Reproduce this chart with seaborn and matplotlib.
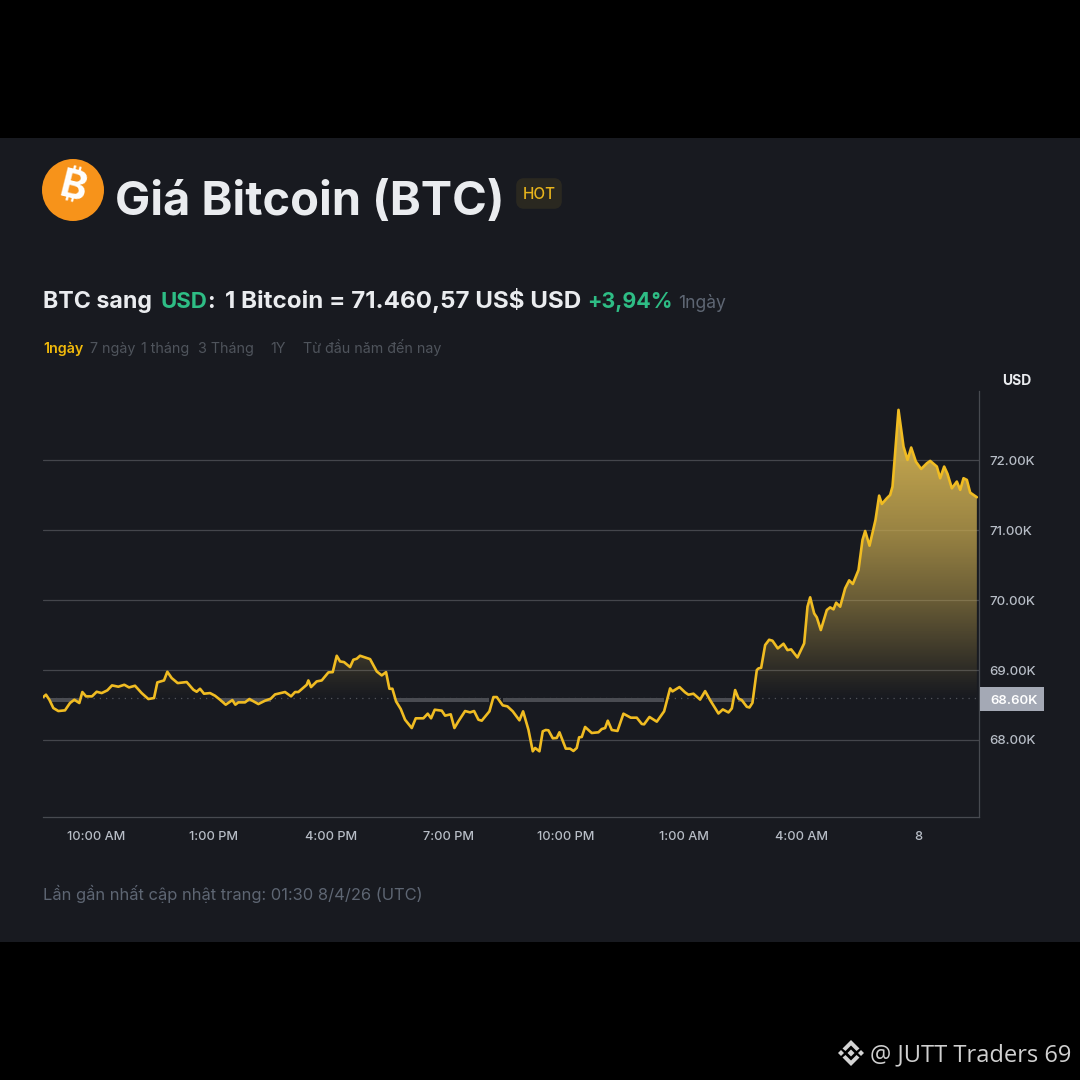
import numpy as np
import pandas as pd
import matplotlib
matplotlib.use("Agg")
import matplotlib.pyplot as plt
import seaborn as sns
from matplotlib.colors import LinearSegmentedColormap
from matplotlib.patches import Circle, FancyBboxPatch, Polygon, Rectangle

# Hours after 10:00 AM
hours = [
 -1.345,-1.277,-1.191,-1.089,-0.962,-0.791,-0.664,-0.553,-0.426,-0.349,-0.255,-0.102,0.017,0.145,0.289,0.409,0.570,0.723,0.843,0.996,
 1.166,1.336,1.481,1.566,1.736,1.821,1.932,2.085,2.315,2.485,2.570,2.655,2.757,2.911,3.038,3.166,3.311,3.481,3.557,3.634,
 3.804,3.915,4.145,4.315,4.460,4.570,4.826,4.979,5.081,5.166,5.379,5.421,5.489,5.634,5.762,5.932,6.043,6.145,6.230,6.332,
 6.485,6.570,6.655,6.740,6.996,7.166,7.294,7.404,7.489,7.566,7.660,7.779,7.889,8.060,8.162,8.357,8.468,8.553,8.647,8.826,
 8.911,9.055,9.149,9.251,9.421,9.549,9.651,9.762,9.847,10.043,10.145,10.230,10.383,10.502,10.638,10.809,10.902,11.038,11.149,11.209,
 11.319,11.404,11.481,11.549,11.660,11.762,11.830,11.992,12.102,12.187,12.272,12.332,12.400,12.485,12.655,12.826,12.911,12.996,13.064,13.166,
 13.311,13.464,13.651,13.804,13.932,13.991,14.128,14.315,14.502,14.655,14.715,14.894,15.038,15.123,15.251,15.421,15.549,15.677,15.889,16.000,
 16.145,16.230,16.315,16.400,16.485,16.613,16.681,16.757,16.868,16.911,16.979,17.081,17.183,17.268,17.404,17.549,17.651,17.745,17.906,18.077,
 18.162,18.230,18.332,18.400,18.502,18.655,18.740,18.826,18.894,18.996,19.123,19.226,19.319,19.464,19.566,19.634,19.745,19.898,19.991,20.060,
 20.187,20.272,20.332,20.485,20.613,20.715,20.809,20.928,21.064,21.209,21.294,21.464,21.549,21.651,21.736,21.847,21.974,22.060,22.145,22.230,
 22.315,22.485]
# BTC price, thousand USD
price_k = [
 68.614,68.648,68.576,68.457,68.414,68.424,68.529,68.576,68.529,68.686,68.624,68.624,68.690,68.671,68.710,68.781,68.762,68.790,68.752,68.776,
 68.671,68.586,68.600,68.824,68.852,68.976,68.886,68.814,68.829,68.719,68.690,68.733,68.662,68.671,68.633,68.576,68.505,68.571,68.505,68.538,
 68.538,68.586,68.514,68.562,68.590,68.652,68.686,68.624,68.686,68.686,68.790,68.852,68.757,68.838,68.852,68.967,68.971,69.205,69.124,69.114,
 69.043,69.148,69.162,69.205,69.157,68.981,68.924,68.971,68.733,68.733,68.552,68.443,68.290,68.171,68.310,68.310,68.376,68.310,68.433,68.419,
 68.348,68.367,68.171,68.267,68.414,68.395,68.414,68.290,68.276,68.410,68.614,68.614,68.495,68.481,68.410,68.281,68.410,68.148,67.838,67.886,
 67.838,68.124,68.143,68.138,68.024,68.029,68.110,67.876,67.876,67.843,67.886,68.038,68.043,68.186,68.100,68.110,68.157,68.171,68.276,68.143,
 68.129,68.376,68.319,68.319,68.229,68.224,68.329,68.262,68.410,68.738,68.695,68.757,68.681,68.648,68.662,68.578,68.699,68.570,68.379,68.437,
 68.394,68.451,68.714,68.594,68.570,68.475,68.465,68.532,69.000,69.024,69.033,69.358,69.434,69.420,69.310,69.377,69.286,69.296,69.181,69.382,
 69.907,70.041,69.811,69.754,69.573,69.859,69.897,69.869,69.964,69.907,70.169,70.284,70.232,70.432,70.862,70.990,70.780,71.148,71.496,71.377,
 71.458,71.506,71.625,72.723,72.198,72.007,72.184,71.983,71.878,71.959,71.993,71.912,71.745,71.912,71.807,71.601,71.697,71.578,71.745,71.721,
 71.539,71.473]
base_k = 68.60
y_ticks = [68, 69, 70, 71, 72]
y_tick_labels = ["68.00K", "69.00K", "70.00K", "71.00K", "72.00K"]
x_ticks = [0, 3, 6, 9, 12, 15, 18, 21]
x_tick_labels = ["10:00 AM", "1:00 PM", "4:00 PM", "7:00 PM", "10:00 PM", "1:00 AM", "4:00 AM", "8"]
tabs = [("1ngày", 43), ("7 ngày", 90), ("1 tháng", 141), ("3 Tháng", 198), ("1Y", 270), ("Từ đầu năm đến nay", 303)]

W = H = 1080
BG, PANEL = "#000000", "#181a20"
GOLD, GREEN, WHITE = "#f0b90b", "#2ebd85", "#eaecef"
GREY = "#5e6673"
LINE = "#f0bc22"
FONT = ["Inter", "DejaVu Sans"]

sns.set_theme(style="dark")
plt.rcParams["font.family"] = FONT
fig = plt.figure(figsize=(10.8, 10.8), dpi=100, facecolor=BG)

bg = fig.add_axes([0, 0, 1, 1], zorder=0)
bg.set_xlim(0, W); bg.set_ylim(H, 0); bg.axis("off")
bg.add_patch(Rectangle((0, 138), W, 804, color=PANEL, lw=0))

def T(x, y, s, size, color, weight="normal", ha="left", va="baseline", **kw):
    return bg.text(x, y, s, fontsize=size, color=color, fontweight=weight, ha=ha, va=va, **kw)

# header
bg.add_patch(Circle((73, 190), 31, color="#f7931a", lw=0))
T(73, 189, "\u20bf", 29, "#ffffff", "bold", ha="center", va="center", rotation=-14,
  family=["Inter", "Roboto", "Noto Sans", "Open Sans", "Lato", "Liberation Sans", "DejaVu Sans"])
T(115, 215, "Giá Bitcoin (BTC)", 33.8, WHITE, "bold")
bg.add_patch(FancyBboxPatch((520, 182), 38, 23, boxstyle="round,pad=0,rounding_size=4", mutation_aspect=1,
                            ec="#2a2820", fc="#2a2820", lw=5.5))
T(539, 199, "HOT", 11, "#e8b41c", "medium", ha="center")

T(43, 308, "BTC sang", 16.7, WHITE, "bold")
T(160, 308, "USD", 16, GREEN, "bold")
T(207, 308, ":", 16.5, WHITE, "bold")
T(225, 308, "1 Bitcoin = 71.460,57 US$ USD", 17.4, WHITE, "bold")
T(587, 308, "+3,94%", 15.4, GREEN, "bold")
T(678, 308, "1ngày", 12.6, GREY)
for i, (s, x) in enumerate(tabs):
    T(x, 353, s, 10.3, GOLD if i == 0 else "#4f545c", "semibold" if i == 0 else "normal")
T(1017, 385, "USD", 10, WHITE, "bold", ha="center")
T(43, 900, "Lần gần nhất cập nhật trang: 01:30 8/4/26 (UTC)", 11.9, GREY)

# chart
L, R, TOP, BOT = 43, 979, 391, 817
ax = fig.add_axes([L / W, 1 - BOT / H, (R - L) / W, (BOT - TOP) / H], zorder=2)
ax.set_facecolor("none")
df = pd.DataFrame({"hours": hours, "price": price_k})
for v in y_ticks:
    ax.axhline(v, color="#44464c", lw=0.9, zorder=1)
ax.axhline(base_k, color="#50535a", lw=0.9, ls=(0, (1, 4)), zorder=1)
h = df["hours"].to_numpy(); p = df["price"].to_numpy()
ax.fill_between(h, base_k - 0.05, base_k, where=p < base_k, interpolate=False,
                color="#4a4c52", lw=0, zorder=1.5)

gold = (0.78, 0.66, 0.31)
stops = [(0.0, 0.0), (0.096, 0.125), (0.337, 0.47), (0.578, 0.75), (0.819, 0.95), (1.0, 1.0)]
cmap = LinearSegmentedColormap.from_list("g", [(f, (*gold, a)) for f, a in stops], N=256)
grad = np.linspace(0, 1, 256).reshape(-1, 1)
im = ax.imshow(grad, origin="lower", aspect="auto", cmap=cmap, extent=[h[0], h[-1], base_k, 72.75], zorder=2)
poly = ax.fill_between(h, base_k, np.maximum(p, base_k), color="none", lw=0)
im.set_clip_path(poly.get_paths()[0], transform=ax.transData)

sns.lineplot(data=df, x="hours", y="price", ax=ax, color=LINE, lw=1.9, estimator=None, sort=False, zorder=3,
             solid_joinstyle="round")
ax.set_xlim(-1.353, 22.54)
ax.set_ylim(66.898, 72.993)
ax.set_xlabel(""); ax.set_ylabel("")
ax.set_xticks(x_ticks); ax.set_xticklabels(x_tick_labels, fontweight="medium")
ax.yaxis.tick_right()
ax.set_yticks(y_ticks); ax.set_yticklabels(y_tick_labels, fontweight="medium")
ax.tick_params(axis="x", length=3.5, width=0.8, color="#5e6673", labelcolor="#b7bdc6", labelsize=9.2, pad=6.5)
ax.tick_params(axis="y", length=0, labelcolor="#b7bdc6", labelsize=9.5, pad=7.5)
ax.grid(False)
for s in ("left", "top"):
    ax.spines[s].set_visible(False)
for s in ("right", "bottom"):
    ax.spines[s].set_color("#474a50"); ax.spines[s].set_linewidth(0.9)

# current-base tag
bg2 = fig.add_axes([0, 0, 1, 1], zorder=3); bg2.set_xlim(0, W); bg2.set_ylim(H, 0); bg2.axis("off")
bg2.add_patch(Rectangle((980, 687), 64, 24, color="#a4a9b5", lw=0))
bg2.text(990, 699, "68.60K", fontsize=9.5, color="#ffffff", fontweight="semibold", va="center_baseline")

# watermark
C = "#d4d4d4"
for cx, r in [(841, 3), (861, 3), (851, 3.5)]:
    bg2.add_patch(Polygon([(cx - r, 1053), (cx, 1053 - r), (cx + r, 1053), (cx, 1053 + r)], fc=C, ec="none"))
for s in (-1, 1):
    bg2.add_patch(Polygon([(851, 1053 + s * 13), (859.5, 1053 + s * 4.5), (856.5, 1053 + s * 2), (851, 1053 + s * 7.5),
                           (845.5, 1053 + s * 2), (842.5, 1053 + s * 4.5)], fc=C, ec="none"))
bg2.text(870, 1052, "@ JUTT Traders 69", fontsize=17, color="#d0d0d0", va="center_baseline", family="Open Sans")

fig.savefig("out.png", dpi=100, facecolor=BG)
